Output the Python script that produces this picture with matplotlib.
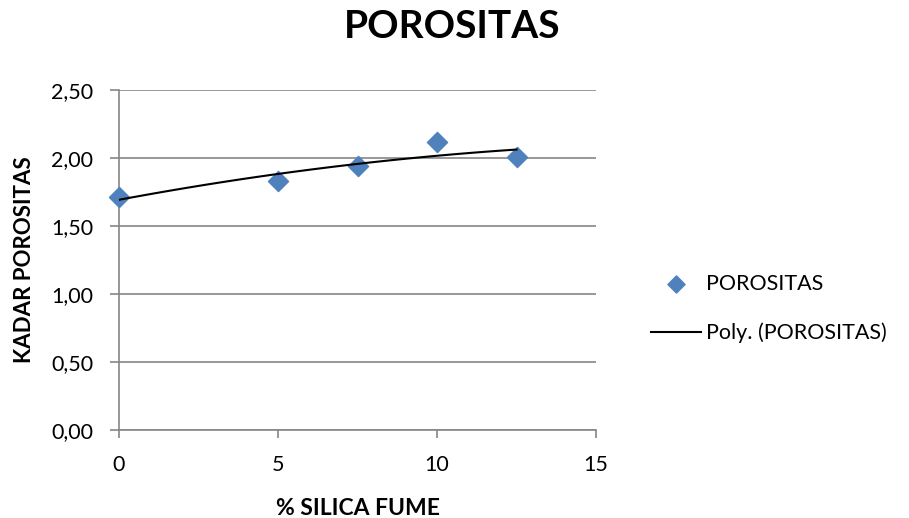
import numpy as np
import matplotlib.pyplot as plt

plt.rcParams['font.family'] = ['Lato', 'DejaVu Sans']

silica = [0, 5, 7.5, 10, 12.5]
porositas = [1.71, 1.83, 1.94, 2.12, 2.01]
y_ticks = [0, 0.5, 1.0, 1.5, 2.0, 2.5]
x_ticks = [0, 5, 10, 15]

GRID = '#868686'
BLUE = '#4F81BD'

fig = plt.figure(figsize=(9.09, 5.18), dpi=100)
ax = fig.add_axes([0.1309, 0.1699, 0.5248, 0.6564])

ax.scatter(silica, porositas, marker='D', s=105, color=BLUE, zorder=3,
           clip_on=False, label='POROSITAS')

# order-2 trendline like Excel's "Poly."
coef = np.polyfit(silica, porositas, 2)
xs = np.linspace(min(silica), max(silica), 100)
ax.plot(xs, np.polyval(coef, xs), color='black', lw=1.5, zorder=4,
        label='Poly. (POROSITAS)')

ax.set_xlim(0, 15)
ax.set_ylim(0, 2.5)
ax.set_xticks(x_ticks)
ax.set_yticks(y_ticks)
ax.set_yticklabels(['{:.2f}'.format(v).replace('.', ',') for v in y_ticks])
ax.grid(axis='y', color=GRID, lw=1.2)
ax.set_axisbelow(True)
for side in ['top', 'right']:
    ax.spines[side].set_visible(False)
for side in ['left', 'bottom']:
    ax.spines[side].set_color(GRID)
    ax.spines[side].set_linewidth(1.2)
ax.tick_params(axis='both', colors=GRID, labelcolor='black', labelsize=15.5,
               width=1.2)
ax.tick_params(axis='y', length=6.5, pad=12)
ax.tick_params(axis='x', length=6, pad=12)

ax.set_xlabel('% SILICA FUME', fontsize=16.5, fontweight='bold', va='baseline')
ax.xaxis.set_label_coords(0.5, -0.25)
ax.set_ylabel('KADAR POROSITAS', fontsize=16, fontweight='bold',
              va='center', ha='center')
ax.yaxis.set_label_coords(-0.199, 0.5)
fig.text(0.4978, 1 - 38 / 518, 'POROSITAS', ha='center', va='baseline',
         fontsize=28, fontweight='bold')

ax.legend(loc='center left', bbox_to_anchor=(0.704, 0.4044),
          bbox_transform=fig.transFigure, frameon=False, borderpad=0,
          fontsize=15.5, handlelength=2.33, labelspacing=1.35,
          handletextpad=0.25, markerscale=0.85)

fig.savefig('out.png', dpi=100)
